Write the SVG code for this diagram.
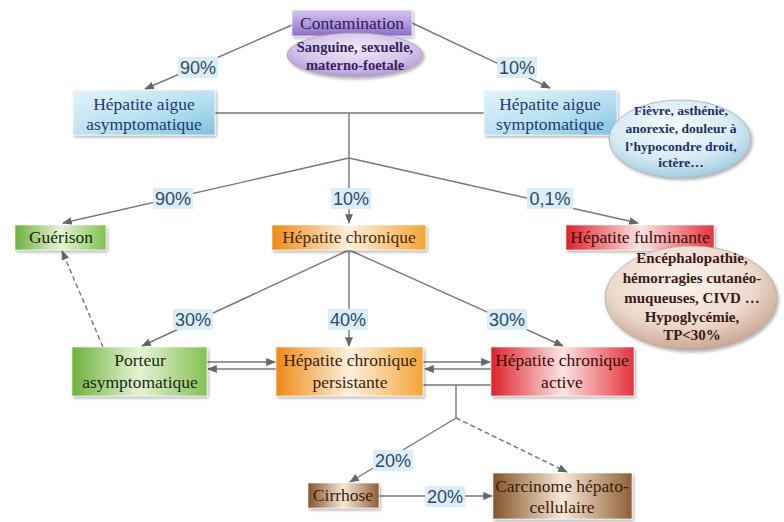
<svg xmlns="http://www.w3.org/2000/svg" width="784" height="522" viewBox="0 0 784 522">
<defs>
<linearGradient id="gPurple" x1="0" y1="0" x2="0" y2="1"><stop offset="0" stop-color="#d6c6ef"/><stop offset="0.5" stop-color="#b49ade"/><stop offset="1" stop-color="#8e6cc6"/></linearGradient>
<linearGradient id="gBlue" x1="0" y1="0" x2="1" y2="1"><stop offset="0" stop-color="#e3f4fa"/><stop offset="0.6" stop-color="#b4dfee"/><stop offset="1" stop-color="#7fc2da"/></linearGradient>
<linearGradient id="gGreen" x1="0" y1="0" x2="1" y2="0"><stop offset="0" stop-color="#6db23a"/><stop offset="0.5" stop-color="#e6f3d6"/><stop offset="1" stop-color="#82c150"/></linearGradient>
<linearGradient id="gOrange" x1="0" y1="0" x2="1" y2="0"><stop offset="0" stop-color="#ee8a16"/><stop offset="0.5" stop-color="#fdf0dd"/><stop offset="1" stop-color="#f4a537"/></linearGradient>
<linearGradient id="gRed" x1="0" y1="0" x2="1" y2="0"><stop offset="0" stop-color="#de2229"/><stop offset="0.5" stop-color="#fbe4e4"/><stop offset="1" stop-color="#e3353b"/></linearGradient>
<linearGradient id="gBrown" x1="0" y1="0" x2="1" y2="0"><stop offset="0" stop-color="#84532a"/><stop offset="0.5" stop-color="#f7e8d6"/><stop offset="1" stop-color="#8f5f35"/></linearGradient>
<radialGradient id="eP" cx="0.5" cy="0.35" r="0.7"><stop offset="0" stop-color="#f1eaf8"/><stop offset="0.6" stop-color="#d3c3ea"/><stop offset="1" stop-color="#a88ccf"/></radialGradient>
<radialGradient id="eB" cx="0.45" cy="0.35" r="0.7"><stop offset="0" stop-color="#f6fbfd"/><stop offset="0.6" stop-color="#d6ebf4"/><stop offset="1" stop-color="#98c7dc"/></radialGradient>
<radialGradient id="eR" cx="0.45" cy="0.35" r="0.7"><stop offset="0" stop-color="#fbf4ef"/><stop offset="0.6" stop-color="#ecd9cc"/><stop offset="1" stop-color="#c49c88"/></radialGradient>
<filter id="sh" x="-10%" y="-10%" width="130%" height="140%"><feDropShadow dx="1.5" dy="2" stdDeviation="1.5" flood-color="#000" flood-opacity="0.3"/></filter>
<marker id="ah" viewBox="0 0 10 10" refX="9" refY="5" markerWidth="7" markerHeight="7" orient="auto-start-reverse"><path d="M0,1 L10,5 L0,9 z" fill="#666"/></marker>
</defs>
<style>
.ln{stroke:#777;stroke-width:1.4;fill:none}
.ar{stroke:#777;stroke-width:1.4;fill:none;marker-end:url(#ah)}
.da{stroke:#777;stroke-width:1.4;fill:none;stroke-dasharray:5 3;marker-end:url(#ah)}
.box{stroke:#ffffff;stroke-opacity:0.6;stroke-width:1;filter:url(#sh)}
.ell{stroke:#aaa;stroke-width:0.8;filter:url(#sh)}
.lbl{font-size:17.5px;text-anchor:middle}
.ebl{font-family:'Liberation Serif','Times New Roman',Times,serif;font-size:14.5px;font-weight:bold;text-anchor:middle}
.pbg{fill:#dbedf8}
.pct{font-family:'Liberation Sans',Arial,sans-serif;font-size:18px;fill:#2f4a63;text-anchor:middle}
</style>

<g id="connectors">
<path class="ar" d="M292,25 L145,89"/>
<path class="ar" d="M412,23 L550,88"/>
<path class="ln" d="M215,113 L484,113 M349,113 L349,158"/>
<path class="ar" d="M349,158 L63,223"/>
<path class="ar" d="M349,158 L349,223"/>
<path class="ar" d="M349,158 L638,223"/>
<path class="da" d="M103,347 L62,251"/>
<path class="ar" d="M349,250 L142,346"/>
<path class="ar" d="M349,250 L349,346"/>
<path class="ar" d="M349,250 L563,346"/>
<path class="ar" d="M207,362 L275,362"/>
<path class="ar" d="M277,369 L208,369"/>
<path class="ar" d="M423,362 L490,362"/>
<path class="ar" d="M491,369 L425,369"/>
<path class="ln" d="M423,385 L491,385 M456,385 L456,418"/>
<path class="ar" d="M456,418 L350,482"/>
<path class="da" d="M456,418 L567,472"/>
<path class="ar" d="M379,496 L492,496"/>
<rect class="pbg" x="178" y="57" width="40" height="21"/><text class="pct" x="198" y="74">90%</text>
<rect class="pbg" x="497" y="57" width="40" height="21"/><text class="pct" x="517" y="74">10%</text>
<rect class="pbg" x="153" y="188" width="40" height="21"/><text class="pct" x="173" y="205">90%</text>
<rect class="pbg" x="331" y="188" width="40" height="21"/><text class="pct" x="351" y="205">10%</text>
<rect class="pbg" x="527" y="188" width="46" height="21"/><text class="pct" x="550" y="205">0,1%</text>
<rect class="pbg" x="173" y="309" width="40" height="21"/><text class="pct" x="193" y="326">30%</text>
<rect class="pbg" x="328" y="309" width="40" height="21"/><text class="pct" x="348" y="326">40%</text>
<rect class="pbg" x="487" y="309" width="40" height="21"/><text class="pct" x="507" y="326">30%</text>
<rect class="pbg" x="373" y="450" width="40" height="21"/><text class="pct" x="393" y="467">20%</text>
<rect class="pbg" x="425" y="486" width="40" height="21"/><text class="pct" x="445" y="503">20%</text>
</g>

<g id="contamination" font-family="Liberation Serif, serif">
<rect class="box" x="292" y="10" width="120" height="26" fill="url(#gPurple)"/>
<text class="lbl" x="352" y="29" fill="#2e1a52">Contamination</text>
</g>
<g id="voies">
<ellipse class="ell" cx="355" cy="55" rx="68" ry="22" fill="url(#eP)"/>
<text class="ebl" x="355" y="52" fill="#3a2160">Sanguine, sexuelle,</text>
<text class="ebl" x="355" y="70" fill="#3a2160">materno-foetale</text>
</g>

<g id="aigue-asympto" font-family="Liberation Serif, serif">
<rect class="box" x="73" y="90" width="142" height="45" fill="url(#gBlue)"/>
<text class="lbl" x="144" y="110" fill="#1e3a70">Hépatite aigue</text>
<text class="lbl" x="144" y="130" fill="#1e3a70">asymptomatique</text>
</g>
<g id="aigue-sympto" font-family="Liberation Serif, serif">
<rect class="box" x="484" y="90" width="133" height="45" fill="url(#gBlue)"/>
<text class="lbl" x="550" y="110" fill="#1e3a70">Hépatite aigue</text>
<text class="lbl" x="550" y="130" fill="#1e3a70">symptomatique</text>
</g>
<g id="symptomes">
<ellipse class="ell" cx="680" cy="139" rx="71" ry="39" fill="url(#eB)"/>
<text class="ebl" x="681" y="115" style="font-size:13.5px" fill="#1c2f63">Fièvre, asthénie,</text>
<text class="ebl" x="681" y="133" style="font-size:13.5px" fill="#1c2f63">anorexie, douleur à</text>
<text class="ebl" x="681" y="151" style="font-size:13.5px" fill="#1c2f63">l’hypocondre droit,</text>
<text class="ebl" x="681" y="167" style="font-size:13.5px" fill="#1c2f63">ictère…</text>
</g>

<g id="guerison" font-family="Liberation Serif, serif">
<rect class="box" x="15" y="225" width="91" height="25" fill="url(#gGreen)"/>
<text class="lbl" x="61" y="243" fill="#14280c">Guérison</text>
</g>
<g id="chronique" font-family="Liberation Serif, serif">
<rect class="box" x="272" y="225" width="154" height="25" fill="url(#gOrange)"/>
<text class="lbl" x="349" y="243" fill="#4a2a10">Hépatite chronique</text>
</g>
<g id="fulminante" font-family="Liberation Serif, serif">
<rect class="box" x="566" y="225" width="148" height="25" fill="url(#gRed)"/>
<text class="lbl" x="640" y="243" fill="#3a0c0c">Hépatite fulminante</text>
</g>
<g id="signes-fulminante">
<ellipse class="ell" cx="691" cy="298" rx="86" ry="52" fill="url(#eR)"/>
<text class="ebl" x="692" y="263" style="font-size:15px" fill="#3a1a12">Encéphalopathie,</text>
<text class="ebl" x="692" y="283" style="font-size:15px" fill="#3a1a12">hémorragies cutanéo-</text>
<text class="ebl" x="692" y="303" style="font-size:15px" fill="#3a1a12">muqueuses, CIVD …</text>
<text class="ebl" x="692" y="322" style="font-size:15px" fill="#3a1a12">Hypoglycémie,</text>
<text class="ebl" x="692" y="340" style="font-size:15px" fill="#3a1a12">TP&lt;30%</text>
</g>

<g id="porteur" font-family="Liberation Serif, serif">
<rect class="box" x="72" y="347" width="135" height="49" fill="url(#gGreen)"/>
<text class="lbl" x="140" y="366" fill="#1a2a16">Porteur</text>
<text class="lbl" x="140" y="388" fill="#1a2a16">asymptomatique</text>
</g>
<g id="persistante" font-family="Liberation Serif, serif">
<rect class="box" x="276" y="347" width="147" height="49" fill="url(#gOrange)"/>
<text class="lbl" x="350" y="366" fill="#3a2410">Hépatite chronique</text>
<text class="lbl" x="350" y="388" fill="#3a2410">persistante</text>
</g>
<g id="active" font-family="Liberation Serif, serif">
<rect class="box" x="491" y="347" width="143" height="49" fill="url(#gRed)"/>
<text class="lbl" x="562" y="366" fill="#3a0c0c">Hépatite chronique</text>
<text class="lbl" x="562" y="388" fill="#3a0c0c">active</text>
</g>

<g id="cirrhose" font-family="Liberation Serif, serif">
<rect class="box" x="308" y="483" width="71" height="25" fill="url(#gBrown)"/>
<text class="lbl" x="343" y="501" fill="#3a1c0c">Cirrhose</text>
</g>
<g id="carcinome" font-family="Liberation Serif, serif">
<rect class="box" x="493" y="473" width="139" height="46" fill="url(#gBrown)"/>
<text class="lbl" x="562" y="492" fill="#3a1c0c">Carcinome hépato-</text>
<text class="lbl" x="562" y="513" fill="#3a1c0c">cellulaire</text>
</g>
</svg>
